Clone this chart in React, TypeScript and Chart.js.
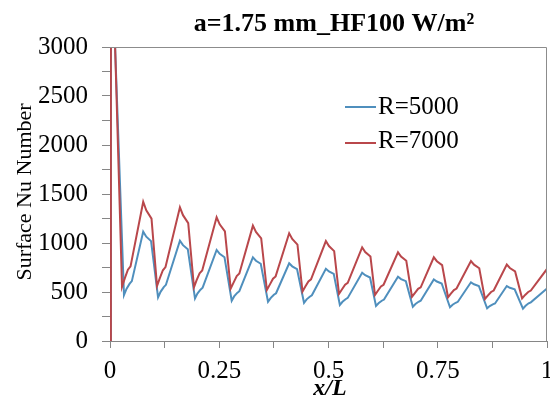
import React, { useEffect, useRef } from "react";
import { Chart, registerables } from "chart.js";

Chart.register(...registerables);

const TITLE = "a=1.75 mm_HF100 W/m²";
const X_TITLE = "x/L";
const Y_TITLE = "Surface Nu Number";
const SERIES_NAMES = ["R=5000", "R=7000"];
const COLORS = ["#4f8fbd", "#b9474b"];

// R=7000 (red)
const xRed = [
  0, 0.002,
  0.0275, 0.034, 0.041, 0.047, 0.076, 0.083, 0.095,
  0.1076, 0.114, 0.121, 0.127, 0.16, 0.167, 0.179,
  0.1922, 0.198, 0.205, 0.211, 0.244, 0.251, 0.263,
  0.2762, 0.283, 0.29, 0.296, 0.327, 0.334, 0.346,
  0.359, 0.366, 0.373, 0.379, 0.41, 0.417, 0.429,
  0.4405, 0.447, 0.454, 0.46, 0.494, 0.501, 0.513,
  0.524, 0.531, 0.538, 0.544, 0.577, 0.584, 0.596,
  0.6064, 0.613, 0.62, 0.626, 0.659, 0.666, 0.678,
  0.691, 0.698, 0.705, 0.711, 0.741, 0.748, 0.76,
  0.7735, 0.78, 0.787, 0.793, 0.826, 0.833, 0.845,
  0.858, 0.865, 0.872, 0.878, 0.908, 0.915, 0.927,
  0.943, 0.95, 0.957, 0.963, 1.0,
];
const yRed = [
  0, 4500,
  554, 641, 727, 762, 1421, 1334, 1248,
  561, 641, 722, 754, 1364, 1284, 1203,
  548, 619, 691, 719, 1262, 1191, 1119,
  534, 598, 663, 688, 1177, 1113, 1048,
  520, 578, 636, 659, 1099, 1041, 983,
  505, 557, 608, 629, 1020, 969, 917,
  480, 528, 575, 594, 956, 908, 861,
  469, 513, 556, 574, 905, 861, 818,
  452, 492, 532, 548, 854, 814, 774,
  446, 483, 520, 535, 816, 779, 742,
  429, 465, 500, 515, 780, 745, 710,
  435, 470, 500, 515, 735,
];

// R=5000 (blue)
const xBlue = [
  0, 0.002,
  0.032, 0.038, 0.045, 0.05, 0.076, 0.083, 0.094,
  0.11, 0.116, 0.123, 0.128, 0.16, 0.167, 0.178,
  0.1945, 0.2, 0.207, 0.212, 0.244, 0.251, 0.262,
  0.2785, 0.284, 0.291, 0.296, 0.327, 0.334, 0.345,
  0.3616, 0.368, 0.375, 0.38, 0.41, 0.417, 0.428,
  0.444, 0.45, 0.457, 0.462, 0.494, 0.501, 0.512,
  0.526, 0.532, 0.539, 0.544, 0.577, 0.584, 0.595,
  0.6087, 0.615, 0.622, 0.627, 0.659, 0.666, 0.677,
  0.693, 0.699, 0.706, 0.711, 0.741, 0.748, 0.759,
  0.778, 0.784, 0.791, 0.796, 0.826, 0.833, 0.844,
  0.863, 0.869, 0.876, 0.881, 0.908, 0.915, 0.926,
  0.945, 0.951, 0.958, 0.963, 1.0,
];
const yBlue = [
  0, 4200,
  469, 534, 585, 611, 1116, 1064, 1019,
  446, 504, 550, 573, 1024, 978, 937,
  435, 484, 524, 544, 929, 889, 855,
  411, 455, 491, 508, 854, 819, 788,
  401, 440, 472, 487, 793, 762, 734,
  390, 425, 452, 466, 737, 709, 685,
  367, 400, 426, 440, 697, 671, 648,
  357, 387, 411, 423, 656, 632, 611,
  350, 378, 400, 411, 629, 607, 587,
  344, 370, 390, 400, 599, 579, 561,
  333, 356, 374, 383, 561, 543, 527,
  330, 360, 385, 395, 536,
];

const X_MIN = 0, X_MAX = 1, X_STEP = 0.125;
const Y_MIN = 0, Y_MAX = 3000, Y_STEP = 250;

const SERIF = '"Liberation Serif", "Times New Roman", serif';

export default function App() {
  const ref = useRef<HTMLCanvasElement | null>(null);

  useEffect(() => {
    if (!ref.current) return;
    const toPts = (xs: number[], ys: number[]) => xs.map((x, i) => ({ x, y: ys[i] }));

    const overlay = {
      id: "overlay",
      afterDraw(chart: any) {
        const { ctx, chartArea } = chart;
        ctx.save();
        // box top/right
        ctx.strokeStyle = "#8c8c8c";
        ctx.lineWidth = 1;
        ctx.beginPath();
        ctx.moveTo(chartArea.left, chartArea.top + 0.5);
        ctx.lineTo(chartArea.right - 0.5, chartArea.top + 0.5);
        ctx.lineTo(chartArea.right - 0.5, chartArea.bottom);
        ctx.stroke();
        ctx.fillStyle = "#000";
        // title
        ctx.font = `bold 26px ${SERIF}`;
        ctx.textAlign = "center";
        ctx.textBaseline = "middle";
        ctx.fillText(TITLE, 334, 24);
        // x title
        ctx.font = `italic bold 24px ${SERIF}`;
        ctx.fillText(X_TITLE, 330, 389);
        // y title
        ctx.font = `22px ${SERIF}`;
        ctx.translate(25, 192);
        ctx.rotate(-Math.PI / 2);
        ctx.fillText(Y_TITLE, 0, 0);
        ctx.restore();
        // legend
        ctx.save();
        ctx.font = `25px ${SERIF}`;
        ctx.textAlign = "left";
        ctx.textBaseline = "middle";
        const ty = [107, 141];
        const ly = [107, 143];
        SERIES_NAMES.forEach((name, i) => {
          ctx.strokeStyle = COLORS[i];
          ctx.lineWidth = 2;
          ctx.beginPath();
          ctx.moveTo(345, ly[i]);
          ctx.lineTo(376, ly[i]);
          ctx.stroke();
          ctx.fillStyle = "#000";
          ctx.fillText(name, 378, ty[i]);
        });
        ctx.restore();
      },
    };

    const chart = new Chart(ref.current, {
      type: "line",
      data: {
        datasets: [
          {
            label: SERIES_NAMES[0],
            data: toPts(xBlue, yBlue),
            borderColor: COLORS[0],
            backgroundColor: COLORS[0],
            borderWidth: 2,
            pointRadius: 0,
            tension: 0,
            order: 1,
          },
          {
            label: SERIES_NAMES[1],
            data: toPts(xRed, yRed),
            borderColor: COLORS[1],
            backgroundColor: COLORS[1],
            borderWidth: 2,
            pointRadius: 0,
            tension: 0,
            order: 0,
          },
        ],
      },
      options: {
        responsive: false,
        animation: false,
        layout: { padding: { top: 47, right: 3, left: 0, bottom: 0 } },
        plugins: { legend: { display: false }, title: { display: false }, tooltip: { enabled: false } },
        scales: {
          x: {
            type: "linear",
            min: X_MIN,
            max: X_MAX,
            afterFit: (s: any) => {
              s.height = 68;
              s.paddingLeft = 0;
              s.paddingRight = 0;
            },
            ticks: {
              stepSize: X_STEP,
              autoSkip: false,
              maxRotation: 0,
              padding: 8,
              color: "#000",
              font: { family: SERIF, size: 25 },
              callback: (v: any) => {
                const n = Number(v);
                return Math.abs(n * 4 - Math.round(n * 4)) < 1e-6 ? String(n) : "";
              },
            },
            grid: { drawOnChartArea: false, tickLength: 7, color: "#868686" },
            border: { color: "#868686", width: 1 },
          },
          y: {
            min: Y_MIN,
            max: Y_MAX,
            afterFit: (s: any) => {
              s.width = 110;
              s.paddingTop = 0;
              s.paddingBottom = 0;
            },
            ticks: {
              stepSize: Y_STEP,
              autoSkip: false,
              padding: 14,
              color: "#000",
              font: { family: SERIF, size: 25 },
              callback: (v: any) => (Number(v) % 500 === 0 ? String(v) : ""),
            },
            grid: { drawOnChartArea: false, tickLength: 8, color: "#868686" },
            border: { color: "#868686", width: 1 },
          },
        },
      },
      plugins: [overlay],
    });
    return () => chart.destroy();
  }, []);

  return (
    <div style={{ position: "absolute", left: 0, top: 0, width: 550, height: 409, background: "#fff" }}>
      <canvas ref={ref} width={550} height={409} style={{ display: "block" }} />
    </div>
  );
}
